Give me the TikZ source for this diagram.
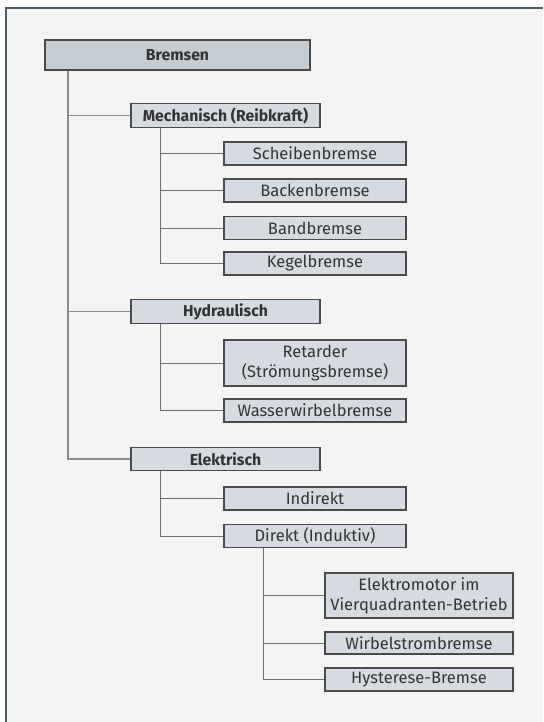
\documentclass[tikz,border=0pt]{standalone}
\usepackage{fontspec}
\setmainfont{Fira Sans}
\definecolor{bgc}{HTML}{F4F4F4}
\definecolor{framec}{HTML}{4A5C66}
\definecolor{boxc}{HTML}{D5DBE1}
\definecolor{topc}{HTML}{C5CCD2}
\definecolor{edgec}{HTML}{4A4A4A}
\definecolor{txtc}{HTML}{333333}
\definecolor{linec}{HTML}{6E6E6E}
\definecolor{trunkc}{HTML}{8C8C8C}
\tikzset{
  box/.style={draw=edgec, line width=1.2pt, fill=boxc, inner sep=0pt, text=txtc, font=\fontsize{16.5}{20}\selectfont, align=center},
  headbox/.style={box, fill=topc, font=\fontsize{15.8}{20}\selectfont\bfseries},
  lvltwo/.style={box, minimum width=189pt, minimum height=23.5pt, font=\fontsize{15.8}{20}\selectfont\bfseries},
  lvlthree/.style={box, minimum width=182pt},
  lvlfour/.style={box, minimum width=188pt},
  conn/.style={draw=linec, line width=1pt},
  mainconn/.style={draw=trunkc, line width=1.3pt},
}
\begin{document}
\begin{tikzpicture}[x=1pt,y=-1pt]
\useasboundingbox (0,0) rectangle (543,722);
\fill[white] (0,0) rectangle (543,722);
\fill[bgc] (7,9) rectangle (543,722);
\draw[framec, line width=2.2pt] (6,722) -- (6,8) -- (543,8);

% level 1
\node[headbox, minimum width=265pt, minimum height=30pt] (brems) at (177.5,55) {Bremsen};
% level 2
\node[lvltwo] (mech) at (225.5,115.5) {Mechanisch (Reibkraft)};
\node[lvltwo] (hyd) at (225.5,311.5) {Hydraulisch};
\node[lvltwo] (elek) at (225.5,459) {Elektrisch};
% level 3 mech
\node[lvlthree, minimum height=23pt] (scheib) at (315,153.5) {Scheibenbremse};
\node[lvlthree, minimum height=23pt] (backen) at (315,190.5) {Backenbremse};
\node[lvlthree, minimum height=23pt] (band) at (315,228) {Bandbremse};
\node[lvlthree, minimum height=23pt] (kegel) at (315,263.5) {Kegelbremse};
% level 3 hyd
\node[lvlthree, minimum height=46pt] (ret) at (315,363) {Retarder\\(Strömungsbremse)};
\node[lvlthree, minimum height=23pt] (wasser) at (315,410.5) {Wasserwirbelbremse};
% level 3 elek
\node[lvlthree, minimum height=23pt] (indir) at (315,498.5) {Indirekt};
\node[lvlthree, minimum height=23pt] (direkt) at (315,536) {Direkt (Induktiv)};
% level 4
\node[lvlfour, minimum height=45pt] (emot) at (419,595.5) {Elektromotor im\\Vierquadranten-Betrieb};
\node[lvlfour, minimum height=22pt] (wirbel) at (419,643) {Wirbelstrombremse};
\node[lvlfour, minimum height=23pt] (hyst) at (419,679.5) {Hysterese-Bremse};

% main trunk
\coordinate (t0) at (68,70);
\draw[mainconn] (brems.south -| t0) |- (elek.west);
\draw[mainconn] (mech.west -| t0) -- (mech.west);
\draw[mainconn] (hyd.west -| t0) -- (hyd.west);

% mech trunk
\coordinate (t1) at (160,0);
\draw[conn] (mech.south -| t1) |- (kegel.west);
\draw[conn] (scheib.west -| t1) -- (scheib.west);
\draw[conn] (backen.west -| t1) -- (backen.west);
\draw[conn] (band.west -| t1) -- (band.west);
% hyd trunk
\draw[conn] (hyd.south -| t1) |- (wasser.west);
\draw[conn] (ret.west -| t1) -- (ret.west);
% elek trunk
\draw[conn] (elek.south -| t1) |- (direkt.west);
\draw[conn] (indir.west -| t1) -- (indir.west);
% direkt trunk
\coordinate (t2) at (263,0);
\draw[conn] (direkt.south -| t2) |- (hyst.west);
\draw[conn] (emot.west -| t2) -- (emot.west);
\draw[conn] (wirbel.west -| t2) -- (wirbel.west);
\end{tikzpicture}
\end{document}
